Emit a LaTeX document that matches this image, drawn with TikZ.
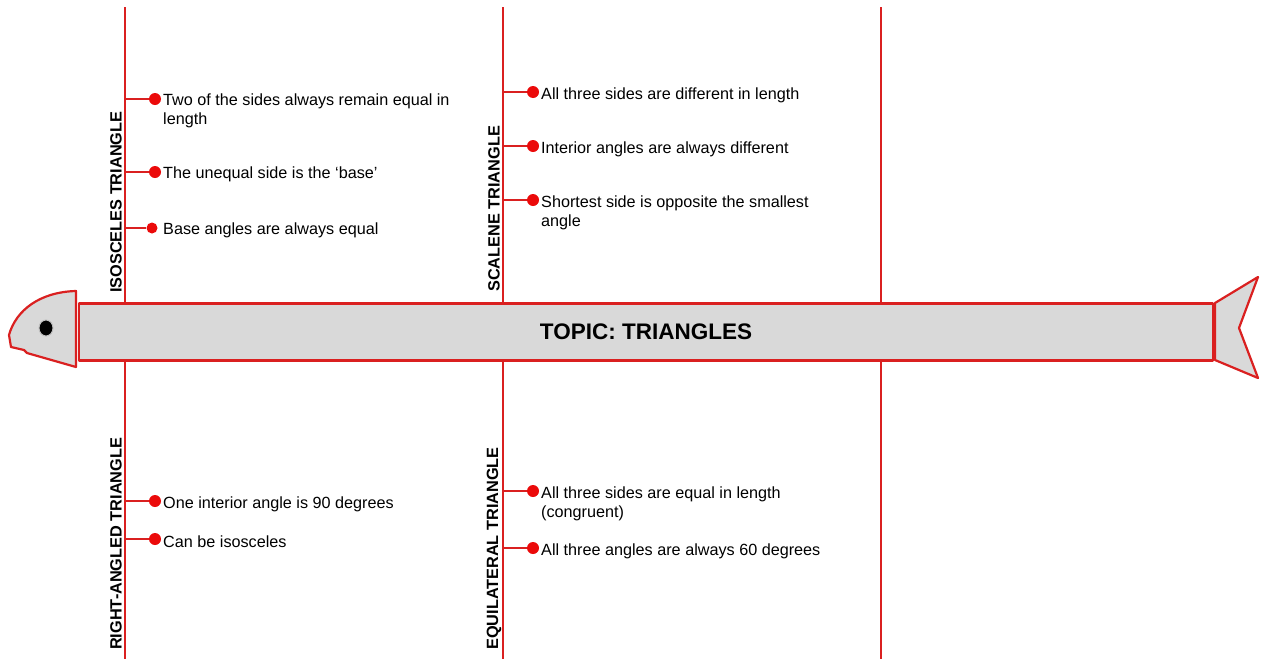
\documentclass[tikz,border=0pt]{standalone}
\usepackage{fontspec}
\setmainfont{Liberation Sans}
\usetikzlibrary{shapes.geometric}
\definecolor{fishred}{RGB}{218,32,32}
\definecolor{dotred}{RGB}{235,10,10}
\definecolor{fishgray}{RGB}{217,217,217}
\begin{document}
\begin{tikzpicture}[x=1pt,y=-1pt,
  bone/.style={draw=fishred,line width=2pt},
  twig/.style={draw=fishred,line width=2pt},
  dotmark/.style={circle,fill=dotred,inner sep=0pt,minimum size=12pt},
  item/.style={anchor=west,inner sep=0pt,font=\fontsize{16.2}{19.5}\selectfont,align=left},
  cat/.style={rotate=90,anchor=west,inner sep=0pt,font=\fontsize{16.3}{18}\selectfont\bfseries},
  fishpart/.style={draw=fishred,fill=fishgray,line width=2.2pt,line join=round}]
\useasboundingbox (0,0) rectangle (1267,659);
\fill[white] (0,0) rectangle (1267,659);
% bones
\coordinate (t1) at (125,7); \coordinate (b1) at (125,659);
\coordinate (t2) at (503,7); \coordinate (b2) at (503,659);
\coordinate (t3) at (881,7); \coordinate (b3) at (881,659);
\draw[bone] (t1) -- (b1);
\draw[bone] (t2) -- (b2);
\draw[bone] (t3) -- (b3);
% body
\node[fishpart,draw,rectangle,minimum width=1134pt,minimum height=57pt,inner sep=0pt,
  font=\fontsize{22.5}{26}\selectfont\bfseries] (body) at (646,332) {TOPIC: TRIANGLES};
% head
\draw[fishpart] (76,291) -- (76,367) -- (27,353) -- (24,350) -- (11,347) -- (9,335)
  .. controls (16,310) and (40,292) .. cycle;
\node[ellipse,fill=black,draw=gray!50,line width=1pt,minimum width=14pt,minimum height=16pt,inner sep=0pt] (eye) at (46,328) {};
% tail
\draw[fishpart] (1215,303) -- (1258,277) -- (1239,328) -- (1258,378) -- (1215,360) -- cycle;
% category labels
\node[cat] (iso) at (116,293) {ISOSCELES TRIANGLE};
\node[cat] (sca) at (494,292) {SCALENE TRIANGLE};
\node[cat] (rig) at (116,650) {RIGHT-ANGLED TRIANGLE};
\node[cat] (equ) at (494,650) {EQUILATERAL TRIANGLE};
% isosceles items
\coordinate (j1) at (125,99); \node[dotmark] (d1) at (155,99) {};
\coordinate (j2) at (125,172); \node[dotmark] (d2) at (155,172) {};
\coordinate (j3) at (125,228); \node[dotmark,minimum size=11pt] (d3) at (152,228) {};
\draw[twig] (j1) -- (d1); \draw[twig] (j2) -- (d2); \draw[twig] (j3) -- (d3);
\node[item] (i1) at (163,111) {Two of the sides always remain equal in\\length};
\node[item] (i2) at (163,174) {The unequal side is the ‘base’};
\node[item] (i3) at (163,230) {Base angles are always equal};
% scalene items
\coordinate (j4) at (503,92); \node[dotmark] (d4) at (533,92) {};
\coordinate (j5) at (503,146); \node[dotmark] (d5) at (533,146) {};
\coordinate (j6) at (503,200); \node[dotmark] (d6) at (533,200) {};
\draw[twig] (j4) -- (d4); \draw[twig] (j5) -- (d5); \draw[twig] (j6) -- (d6);
\node[item] (s1) at (541,95) {All three sides are different in length};
\node[item] (s2) at (541,149) {Interior angles are always different};
\node[item] (s3) at (541,213) {Shortest side is opposite the smallest\\angle};
% right-angled items
\coordinate (j7) at (125,501); \node[dotmark] (d7) at (155,501) {};
\coordinate (j8) at (125,539); \node[dotmark] (d8) at (155,539) {};
\draw[twig] (j7) -- (d7); \draw[twig] (j8) -- (d8);
\node[item] (r1) at (163,504) {One interior angle is 90 degrees};
\node[item] (r2) at (163,542) {Can be isosceles};
% equilateral items
\coordinate (j9) at (503,491); \node[dotmark] (d9) at (533,491) {};
\coordinate (j10) at (503,548); \node[dotmark] (d10) at (533,548) {};
\draw[twig] (j9) -- (d9); \draw[twig] (j10) -- (d10);
\node[item] (e1) at (541,504) {All three sides are equal in length\\(congruent)};
\node[item] (e2) at (541,551) {All three angles are always 60 degrees};
\end{tikzpicture}
\end{document}
